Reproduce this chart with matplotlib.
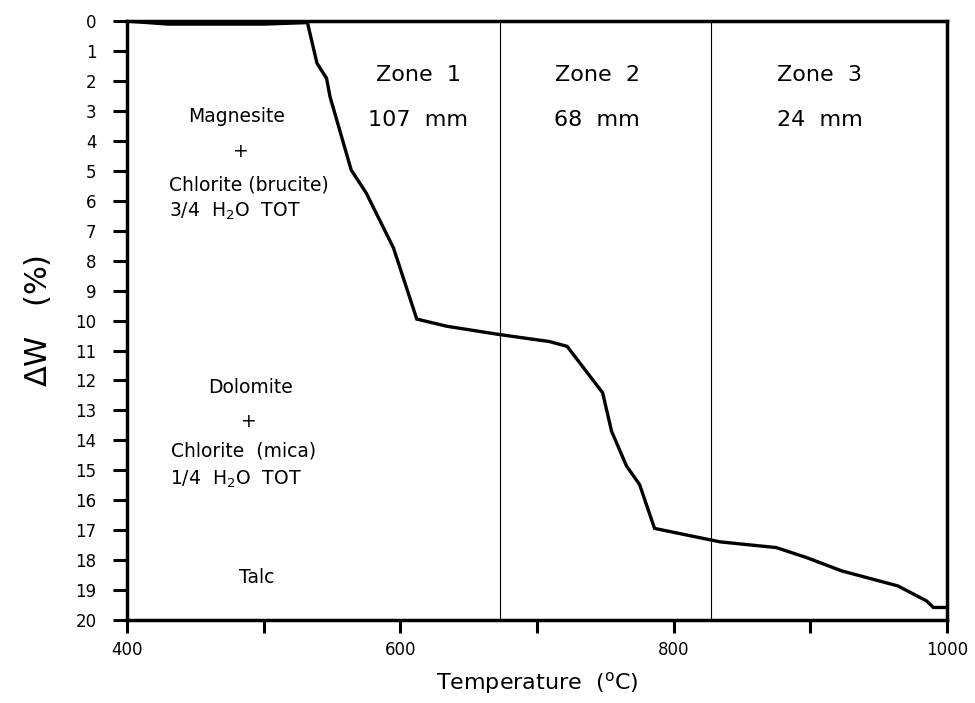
import matplotlib
matplotlib.use("Agg")
import matplotlib.pyplot as plt

# weight loss curve
temp = [400, 430, 500, 532, 539, 546, 548.5, 564, 575, 595, 612, 634, 673, 709,
        722, 748, 754.5, 765.5, 775, 786, 834, 875, 897, 923, 964, 985, 990, 1000]
dw = [0.0, 0.1, 0.1, 0.05, 1.41, 1.91, 2.52, 4.97, 5.74, 7.58, 9.95, 10.19, 10.47, 10.7,
      10.86, 12.41, 13.69, 14.86, 15.47, 16.94, 17.39, 17.58, 17.91, 18.36, 18.86, 19.36, 19.58, 19.58]

zone_edges = [673, 827]
zone_names = ["Zone  1", "Zone  2", "Zone  3"]
zone_sizes = ["107  mm", "68  mm", "24  mm"]
zone_x = [613, 744, 907]

phase_labels = ["Magnesite", "+", "Chlorite (brucite)", "3/4  H$_2$O  TOT",
                "Dolomite", "+", "Chlorite  (mica)", "1/4  H$_2$O  TOT", "Talc"]
phase_x = [480, 483, 489, 479, 490, 489, 485, 480, 495]
phase_y = [3.2, 4.36, 5.47, 6.36, 12.24, 13.36, 14.36, 15.3, 18.58]

plt.rcParams["font.family"] = "DejaVu Sans"

fig = plt.figure(figsize=(9.75, 7.03), dpi=100)
ax = fig.add_axes([0.1303, 0.118, 0.841, 0.852])

ax.plot(temp, dw, color="black", lw=2.4, solid_joinstyle="miter")
for x in zone_edges:
    ax.axvline(x, color="black", lw=0.8)

for name, size, x in zip(zone_names, zone_sizes, zone_x):
    ax.text(x, 1.8, name, ha="center", va="center", fontsize=16)
    ax.text(x, 3.3, size, ha="center", va="center", fontsize=16)

for lab, x, y in zip(phase_labels, phase_x, phase_y):
    ax.text(x, y, lab, ha="center", va="center", fontsize=13.5)

ax.set_xlim(400, 1000)
ax.set_ylim(20, 0)
ax.set_xticks(range(400, 1001, 100))
ax.set_xticklabels(["400", "", "600", "", "800", "", "1000"])
ax.set_yticks(range(0, 21))
ax.tick_params(axis="both", direction="out", width=2.2, labelsize=12)
ax.tick_params(axis="y", length=10, pad=12)
ax.tick_params(axis="x", length=9, pad=6)
for s in ax.spines.values():
    s.set_linewidth(2.5)

ax.set_xlabel("Temperature  ($^{\\mathrm{o}}$C)", fontsize=16, labelpad=8)
ax.set_ylabel("$\\Delta$W   (%)", fontsize=22, labelpad=16)

fig.savefig("out.png", dpi=100)
